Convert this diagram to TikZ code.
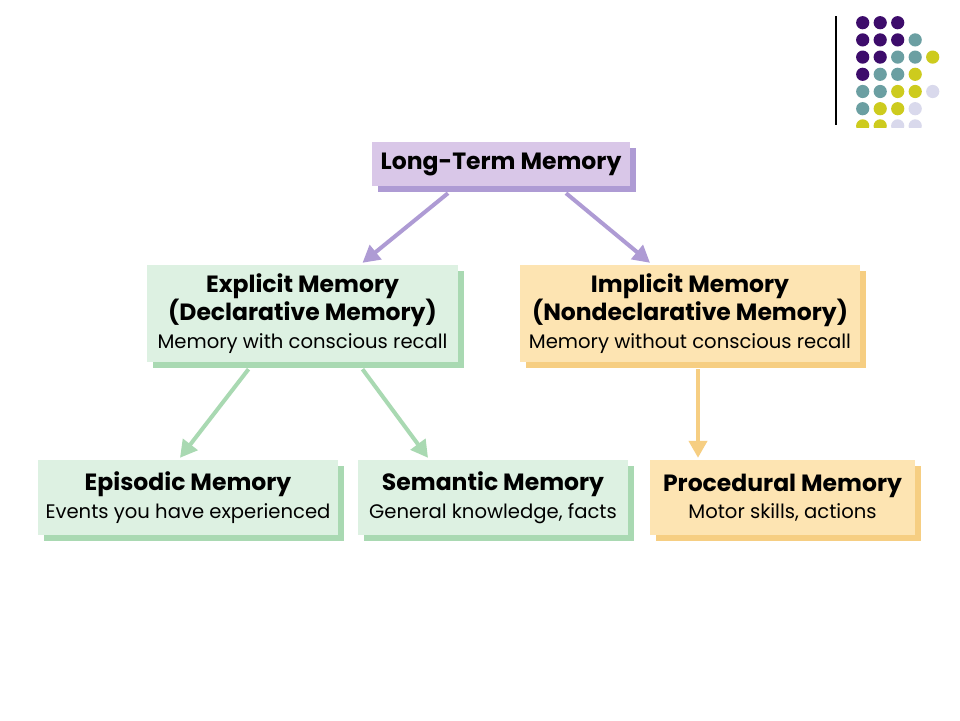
\documentclass[tikz,border=0pt]{standalone}
\usepackage{fontspec}
\setmainfont{Poppins}
\usetikzlibrary{arrows.meta,shadows}

\definecolor{ltmfill}{HTML}{D9C7E8}
\definecolor{ltmshade}{HTML}{AE9BD4}
\definecolor{expfill}{HTML}{DDF1E2}
\definecolor{expshade}{HTML}{A9D9B2}
\definecolor{impfill}{HTML}{FDE4B2}
\definecolor{impshade}{HTML}{F6CE82}
\definecolor{dotP}{HTML}{3D0C6B}
\definecolor{dotT}{HTML}{6B9FA2}
\definecolor{dotY}{HTML}{CDCB1E}
\definecolor{dotL}{HTML}{D9D9EC}

\newcommand{\memhead}[1]{{\fontsize{23.5}{27.5}\selectfont\bfseries #1}}

\begin{document}
\begin{tikzpicture}[x=1pt, y=-1pt,
        memory/.style={inner sep=0pt, align=center, font=\fontsize{19.6}{27.5}\selectfont},
        ltmbox/.style={memory, fill=ltmfill, drop shadow={shadow xshift=6pt, shadow yshift=-6pt, fill=ltmshade, opacity=1}},
        expbox/.style={memory, fill=expfill, drop shadow={shadow xshift=6pt, shadow yshift=-6pt, fill=expshade, opacity=1}},
        impbox/.style={memory, fill=impfill, drop shadow={shadow xshift=6pt, shadow yshift=-6pt, fill=impshade, opacity=1}},
        link/.style={line width=4pt, -{Triangle[length=17pt, width=18pt]}}]
    \useasboundingbox[fill=white] (0,0) rectangle (960,720);

    % logo in the corner
    \draw[line width=1.2pt] (836,16) -- (836,125);
    \begin{scope}
        \clip (840,0) rectangle (960,127);
        \foreach \row [count=\r from 0] in {{P,P,P},{P,P,P,T},{P,P,T,T,Y},{P,T,T,Y},{T,T,Y,Y,L},{T,Y,Y,L},{Y,Y,L,L}}
            \foreach \c [count=\k from 0] in \row
                \fill[dot\c] (862.7+17.5*\k, 22.7+17.2*\r) circle (6.6);
    \end{scope}

    % boxes
    \node[ltmbox, minimum width=258, minimum height=44] (ltm) at (501,164) {\memhead{Long-Term Memory}};
    \node[expbox, minimum width=311, minimum height=97] (explicit) at (302.5,313.5)
        {\memhead{Explicit Memory}\\\memhead{(Declarative Memory)}\\Memory with conscious recall};
    \node[impbox, minimum width=340, minimum height=97] (implicit) at (690,313.5)
        {\memhead{Implicit Memory}\\\memhead{(Nondeclarative Memory)}\\Memory without conscious recall};
    \node[expbox, minimum width=300, minimum height=75] (episodic) at (188,497.5)
        {\memhead{Episodic Memory}\\Events you have experienced};
    \node[expbox, minimum width=270, minimum height=75] (semantic) at (493,497.5)
        {\memhead{Semantic Memory}\\General knowledge, facts};
    \node[impbox, minimum width=265, minimum height=75] (procedural) at (782.5,497.5)
        {\memhead{Procedural Memory}\\Motor skills, actions};

    % links
    \draw[link, ltmshade] ([shift={(-53,7)}]ltm.south) -- ([shift={(60,-2)}]explicit.north);
    \draw[link, ltmshade] ([shift={(65,7)}]ltm.south) -- ([shift={(-40,-2)}]implicit.north);
    \draw[link, expshade] ([shift={(-54,7)}]explicit.south) -- ([shift={(-8,-2)}]episodic.north);
    \draw[link, expshade] ([shift={(60,7)}]explicit.south) -- ([shift={(-65,-2)}]semantic.north);
    \draw[link, impshade] ([shift={(8,7)}]implicit.south) -- ([shift={(-84.5,-2)}]procedural.north);
\end{tikzpicture}
\end{document}
